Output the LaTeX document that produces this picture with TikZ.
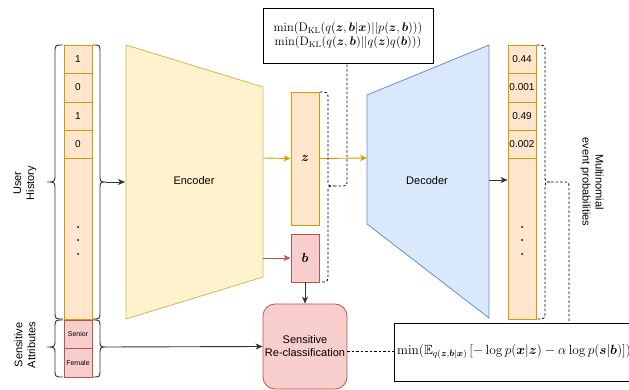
\documentclass[tikz,border=0pt]{standalone}
\usepackage{graphicx}
\usepackage{amsmath,amssymb,bm}
\usepackage[no-math]{fontspec}
\setmainfont{Liberation Sans}
\usetikzlibrary{arrows.meta,calc}
\definecolor{encfill}{HTML}{FFF2CC}
\definecolor{encline}{HTML}{D6B656}
\definecolor{orfill}{HTML}{FFE6CC}
\definecolor{orline}{HTML}{D79B00}
\definecolor{rdfill}{HTML}{F8CECC}
\definecolor{rdline}{HTML}{B85450}
\definecolor{decfill}{HTML}{DAE8FC}
\definecolor{decline}{HTML}{6C8EBF}
\definecolor{edgegray}{HTML}{333333}
\tikzset{
  tip/.style={-{Stealth[length=7pt,width=6pt,inset=2pt]}},
  cellbox/.style={draw=orline,fill=orfill,line width=0.8pt,minimum width=28pt,inner sep=0pt,font=\fontsize{10}{12}\selectfont},
  redcell/.style={draw=rdline,fill=rdfill,line width=0.8pt,minimum width=28pt,inner sep=0pt,font=\fontsize{7}{8}\selectfont},
  bracepath/.style={draw=edgegray,line width=0.9pt},
  dashedbrace/.style={draw=black,line width=0.8pt,dashed,dash pattern=on 2.5pt off 2pt},
  lbl/.style={font=\fontsize{11}{13}\selectfont,align=center},
  mathbox/.style={draw=black,line width=0.9pt,fill=white},
  latent/.style={line width=0.8pt,minimum width=28pt,inner sep=0pt,font=\fontsize{12}{15}\selectfont},
}
\begin{document}
\begin{tikzpicture}[x=1pt,y=-1pt]
\useasboundingbox (0,0) rectangle (629,390);
\clip (0,0) rectangle (629,390);

% ---- input column
\node[cellbox,minimum height=28pt] (c1) at (78,59) {1};
\node[cellbox,minimum height=29pt] (c2) at (78,87.5) {0};
\node[cellbox,minimum height=28pt] (c3) at (78,116) {1};
\node[cellbox,minimum height=28pt] (c4) at (78,144) {0};
\node[cellbox,minimum height=161pt] (c5) at (78,238.5) {};
\foreach \yy in {227,240,254} \fill (78,\yy) circle (1pt);
\node[redcell,minimum height=28pt] (s1) at (78,334) {Senior};
\node[redcell,minimum height=29pt] (s2) at (78,362.5) {Female};

% ---- braces input
\draw[bracepath] (63,45) .. controls (55,45) .. (55,53) -- (55,174) .. controls (55,182) .. (47,182) .. controls (55,182) .. (55,190) -- (55,311) .. controls (55,319) .. (63,319);
\draw[bracepath] (93,45) .. controls (100,45) .. (100,53) -- (100,174) .. controls (100,182) .. (106,182) coordinate (uhtip) .. controls (100,182) .. (100,190) -- (100,311) .. controls (100,319) .. (93,319);
\draw[bracepath] (63,320) .. controls (55,320) .. (55,328) -- (55,339) .. controls (55,347) .. (47,347) .. controls (55,347) .. (55,355) -- (55,369) .. controls (55,377) .. (63,377);
\draw[bracepath] (93,320) .. controls (100,320) .. (100,328) -- (100,339) .. controls (100,347) .. (106,347) coordinate (satip) .. controls (100,347) .. (100,355) -- (100,369) .. controls (100,377) .. (93,377);

\node[lbl,rotate=90] (uh) at (25,183) {User\\History};
\node[lbl,rotate=90] (sa) at (25,345) {Sensitive\\Attributes};

% ---- encoder
\draw[fill=encfill,draw=encline,line width=0.8pt] (126,45) coordinate (e1) -- (263,87) -- (263,277) -- (126,319) -- cycle;
\node[lbl] (enc) at (194,181) {Encoder};
\coordinate (encin) at (125,182);

% ---- latent boxes
\node[latent,draw=orline,fill=orfill,minimum height=133pt] (z) at (305,158.5) {\scalebox{1.1}{$\bm{z}$}};
\node[latent,draw=rdline,fill=rdfill,minimum height=48pt] (b) at (305,258) {\scalebox{1.1}{$\bm{b}$}};

% ---- decoder
\draw[fill=decfill,draw=decline,line width=0.8pt] (367,95) -- (489,45) -- (489,318) -- (367,224) -- cycle;
\node[lbl] (dec) at (427,181) {Decoder};

% ---- output column
\node[cellbox,minimum height=28pt] (o1) at (522,59) {0.44};
\node[cellbox,minimum height=29pt] (o2) at (522,87.5) {0.001};
\node[cellbox,minimum height=28pt] (o3) at (522,116) {0.49};
\node[cellbox,minimum height=28pt] (o4) at (522,144) {0.002};
\node[cellbox,minimum height=161pt] (o5) at (522,238.5) {};
\foreach \yy in {227,240,254} \fill (522,\yy) circle (1pt);

% ---- reclassification
\node[draw=rdline,fill=rdfill,line width=0.8pt,rounded corners=12pt,minimum width=84pt,minimum height=85pt,lbl,inner sep=0pt] (rc) at (305,346.5) {Sensitive\\Re-classification};

% ---- math boxes
\node[mathbox,minimum width=170pt,minimum height=55pt,inner sep=0pt,align=center,font=\fontsize{12}{14.5}\selectfont] (kl) at (348,35.5) {\scalebox{1.03}{$\min(\mathrm{D}_{\mathrm{KL}}(q(\bm{z},\bm{b}|\bm{x})||p(\bm{z},\bm{b})))$}\\\scalebox{1.03}{$\min(\mathrm{D}_{\mathrm{KL}}(q(\bm{z},\bm{b})||q(\bm{z})q(\bm{b})))$}};
\draw[mathbox] (394,323) rectangle (640,381);
\coordinate (lossleft) at (394,352);
\node[anchor=west,inner sep=0pt,font=\fontsize{12}{14.5}\selectfont] (loss) at (397,352) {\scalebox{1.11}{$\min(\mathbb{E}_{q(\bm{z},\bm{b}|\bm{x})}\left[-\log p(\bm{x}|\bm{z})-\alpha\log p(\bm{s}|\bm{b})\right])$}};

% ---- connectors
\draw[edgegray,line width=0.9pt,tip] (uhtip) -- (encin);
\draw[edgegray,line width=0.9pt,tip] (satip) -- (rc.west);
\draw[orline,line width=0.9pt,tip] (263,158) -- (z.west);
\draw[rdline,line width=0.9pt,tip] (263,258) -- (b.west);
\draw[orline,line width=0.9pt,tip] (z.east) -- (367,158);
\draw[edgegray,line width=0.9pt,tip] (b.south) -- (rc.north);
\draw[edgegray,line width=0.9pt,tip] (489,180) -- (o5.west |- 0,180);
\draw[dashedbrace] (rc.east |- 0,351) -- (lossleft |- 0,351);

% ---- dashed braces
\draw[dashedbrace] (320,92) .. controls (328,92) .. (328,100) -- (328,178) .. controls (328,186) .. (334,186) coordinate (ztip) .. controls (328,186) .. (328,194) -- (328,274) .. controls (328,282) .. (320,282);
\draw[dashedbrace,rounded corners=3pt] (ztip) -- (347,186) -- (kl.south -| 347,0);
\draw[dashedbrace] (537,45) .. controls (545,45) .. (545,53) -- (545,174) .. controls (545,182) .. (551,182) coordinate (otip) .. controls (545,182) .. (545,190) -- (545,311) .. controls (545,319) .. (537,319);
\draw[dashedbrace,rounded corners=3pt] (otip) -- (569,182) -- (569,323);

\node[lbl,rotate=-90] (mep) at (592,182) {Multinomial\\event probabilities};
\end{tikzpicture}
\end{document}
